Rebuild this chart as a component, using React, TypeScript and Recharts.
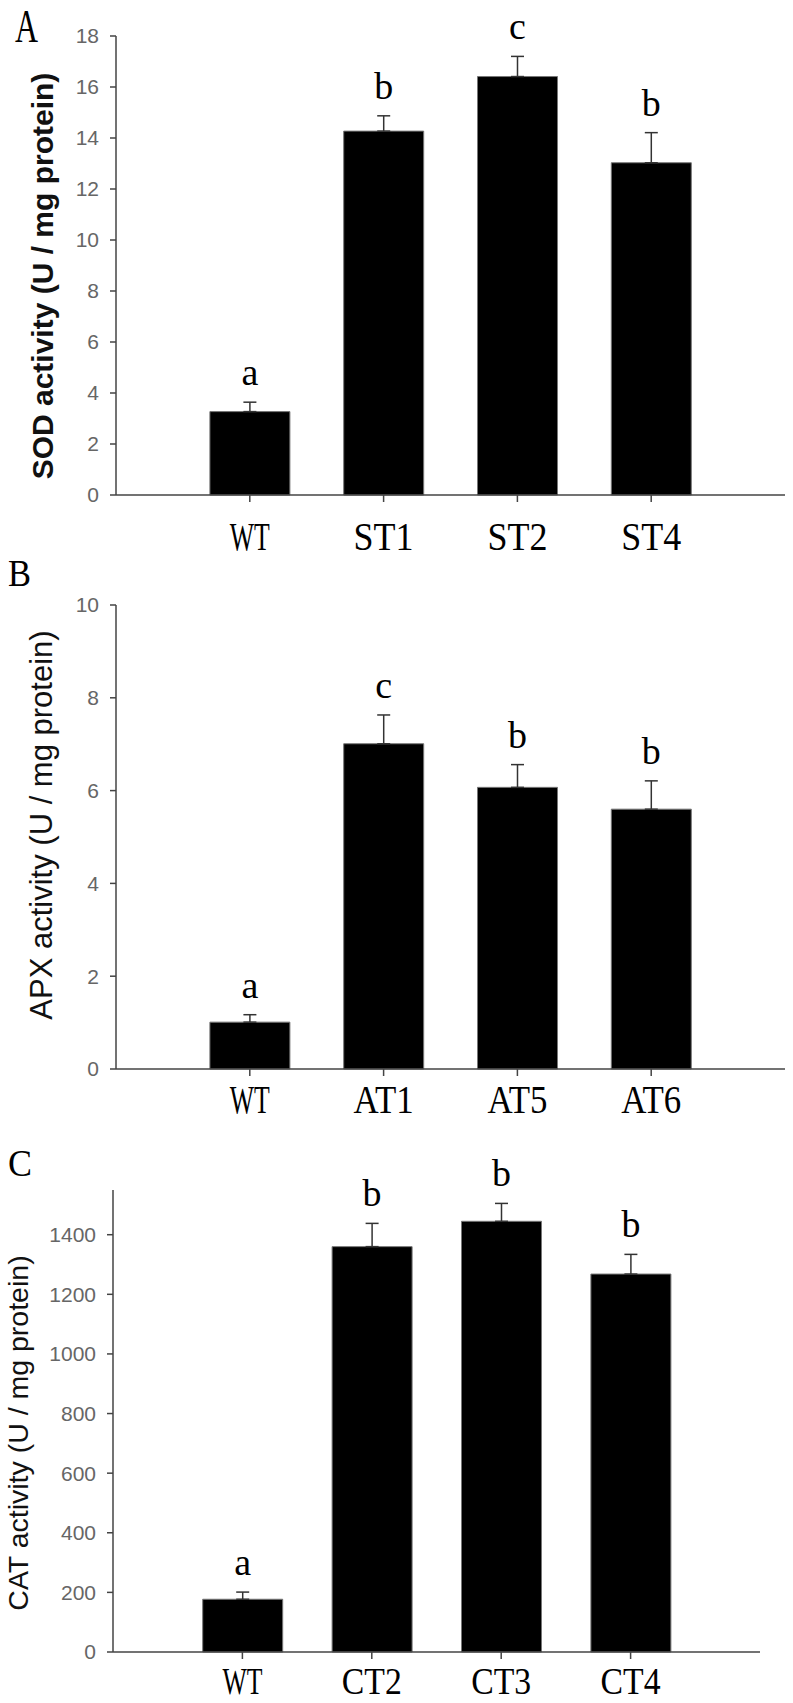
import React from 'react';
import { BarChart, Bar, XAxis, YAxis, ErrorBar, LabelList } from 'recharts';

// SOD panel
const sodGroups = ['WT', 'ST1', 'ST2', 'ST4'];
const sodMeans = [3.27, 14.27, 16.41, 13.03];
const sodErrors = [0.37, 0.6, 0.79, 1.18];
const sodLetters = ['a', 'b', 'c', 'b'];
const sodTicks = [0, 2, 4, 6, 8, 10, 12, 14, 16, 18];

// APX panel
const apxGroups = ['WT', 'AT1', 'AT5', 'AT6'];
const apxMeans = [1.01, 7.01, 6.07, 5.6];
const apxErrors = [0.16, 0.62, 0.49, 0.61];
const apxLetters = ['a', 'c', 'b', 'b'];
const apxTicks = [0, 2, 4, 6, 8, 10];

// CAT panel
const catGroups = ['WT', 'CT2', 'CT3', 'CT4'];
const catMeans = [177, 1360, 1445, 1268];
const catErrors = [24, 78, 60, 66];
const catLetters = ['a', 'b', 'b', 'b'];
const catTicks = [0, 200, 400, 600, 800, 1000, 1200, 1400];

const SANS = "'Liberation Sans', Arial, sans-serif";
const SERIF = "'Liberation Serif', 'Times New Roman', serif";
const AXIS = '#444';

function AxisTitle({ text, bx, cy, size, weight }: any) {
  return (
    <text
      x={bx}
      y={cy}
      transform={`rotate(-90 ${bx} ${cy})`}
      textAnchor="middle"
      fontFamily={SANS}
      fontSize={size}
      fontWeight={weight}
      fill="#111"
    >
      {text}
    </text>
  );
}

function GroupTick({ x, y, payload, dy, size }: any) {
  const s = String(payload.value);
  return (
    <text
      x={x}
      y={y + dy}
      textAnchor="middle"
      fontFamily={SERIF}
      fontSize={size}
      fill="#000"
      textLength={s.length * 20}
      lengthAdjust="spacingAndGlyphs"
    >
      {s}
    </text>
  );
}

interface PanelProps {
  groups: string[];
  means: number[];
  errors: number[];
  letters: string[];
  ticks: number[];
  yMax: number;
  title: string;
  titleBold?: boolean;
  titleSize: number;
  titleX: number;
  titleY: number;
  top: number;
  height: number;
  marginTop: number;
  axisHeight: number;
  yAxisWidth: number;
  rightMargin: number;
  labelDy: number;
  labelSize: number;
}

function Panel(p: PanelProps) {
  // error bars only go up from the bar top
  const rows = p.groups.map((name, i) => ({
    name,
    mean: p.means[i],
    err: [0, p.errors[i]],
  }));
  const plotWidth = 793 - p.yAxisWidth - p.rightMargin;
  const pad = plotWidth / 10;

  const renderLetter = (props: any) => {
    const vb = props.viewBox ?? props;
    const { x, y, width, height } = vb;
    const i = p.groups.indexOf(String(props.value));
    if (i < 0) return null;
    const pxPerUnit = Math.abs(height) / p.means[i];
    const errTop = Math.min(y, y + height) - p.errors[i] * pxPerUnit;
    return (
      <text
        x={x + width / 2}
        y={errTop - 17}
        textAnchor="middle"
        fontFamily={SERIF}
        fontSize={38}
        fill="#000"
      >
        {p.letters[i]}
      </text>
    );
  };

  return (
    <div style={{ position: 'absolute', left: 0, top: p.top, width: 793, height: p.height }}>
      <BarChart
        width={793}
        height={p.height}
        data={rows}
        barSize={80}
        margin={{ top: p.marginTop, right: p.rightMargin, bottom: 0, left: 0 }}
      >
        <XAxis
          dataKey="name"
          height={p.axisHeight}
          padding={{ left: pad, right: pad }}
          axisLine={{ stroke: AXIS, strokeWidth: 1.5 }}
          tickLine={{ stroke: AXIS, strokeWidth: 1.5 }}
          tickSize={7}
          tickMargin={0}
          interval={0}
          tick={(props: any) => <GroupTick {...props} dy={p.labelDy} size={p.labelSize} />}
        />
        <YAxis
          type="number"
          domain={[0, p.yMax]}
          ticks={p.ticks}
          interval={0}
          width={p.yAxisWidth}
          axisLine={{ stroke: AXIS, strokeWidth: 1.5 }}
          tickLine={{ stroke: AXIS, strokeWidth: 1.5 }}
          tickSize={6}
          tickMargin={11}
          tick={{ fill: '#666', fontSize: 21, fontFamily: SANS }}
          label={
            <AxisTitle
              text={p.title}
              bx={p.titleX}
              cy={p.titleY}
              size={p.titleSize}
              weight={p.titleBold ? 'bold' : 'normal'}
            />
          }
        />
        <Bar dataKey="mean" fill="#000" stroke="#777" strokeWidth={1} isAnimationActive={false}>
          <ErrorBar
            dataKey="err"
            direction="y"
            width={6.5}
            stroke="#333"
            strokeWidth={1.5}
          />
          <LabelList dataKey="name" content={renderLetter} />
        </Bar>
      </BarChart>
    </div>
  );
}

export default function App() {
  return (
    <div
      style={{
        position: 'absolute',
        left: 0,
        top: 0,
        width: 793,
        height: 1703,
        background: '#fff',
        overflow: 'hidden',
      }}
    >
      <Panel
        groups={sodGroups}
        means={sodMeans}
        errors={sodErrors}
        letters={sodLetters}
        ticks={sodTicks}
        yMax={18}
        title="SOD activity (U / mg protein)"
        titleBold
        titleSize={30}
        titleX={53}
        titleY={276}
        top={0}
        height={575}
        marginTop={36}
        axisHeight={80}
        yAxisWidth={116}
        rightMargin={8}
        labelDy={48}
        labelSize={40}
      />
      <Panel
        groups={apxGroups}
        means={apxMeans}
        errors={apxErrors}
        letters={apxLetters}
        ticks={apxTicks}
        yMax={10}
        title="APX activity (U / mg protein)"
        titleSize={31}
        titleX={52}
        titleY={250}
        top={575}
        height={560}
        marginTop={30}
        axisHeight={66}
        yAxisWidth={116}
        rightMargin={8}
        labelDy={37}
        labelSize={40}
      />
      <Panel
        groups={catGroups}
        means={catMeans}
        errors={catErrors}
        letters={catLetters}
        ticks={catTicks}
        yMax={1550}
        title="CAT activity (U / mg protein)"
        titleSize={28.5}
        titleX={28}
        titleY={298}
        top={1135}
        height={568}
        marginTop={55}
        axisHeight={51}
        yAxisWidth={113}
        rightMargin={33}
        labelDy={35}
        labelSize={38}
      />
      <svg
        width={793}
        height={1703}
        style={{ position: 'absolute', left: 0, top: 0, pointerEvents: 'none' }}
      >
        <text x={15} y={42} fontFamily={SERIF} fontSize={46} textLength={23} lengthAdjust="spacingAndGlyphs">A</text>
        <text x={8} y={586} fontFamily={SERIF} fontSize={38} textLength={23} lengthAdjust="spacingAndGlyphs">B</text>
        <text x={8} y={1176} fontFamily={SERIF} fontSize={38} textLength={24} lengthAdjust="spacingAndGlyphs">C</text>
      </svg>
    </div>
  );
}
